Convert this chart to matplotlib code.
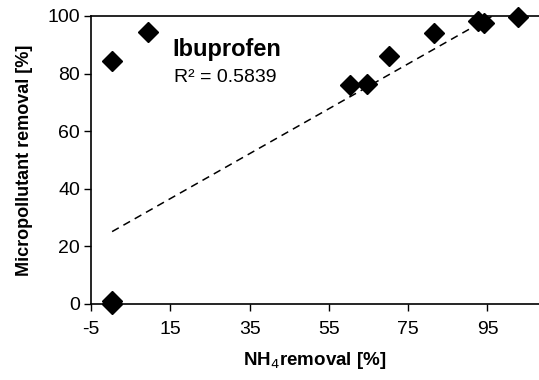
import numpy as np
from matplotlib import pyplot as plt

plt.rcParams['font.family'] = ['Liberation Sans', 'DejaVu Sans']
plt.rcParams['axes.unicode_minus'] = False

# NH4 removal vs micropollutant removal
nh4_removal = [0.3, 0.3, 0.3, 9.3, 60.2, 64.6, 70.1, 81.5, 92.5, 94.2, 102.8]
mp_removal = [84.4, 1.0, 0.0, 94.4, 76.0, 76.5, 86.1, 94.0, 98.4, 97.5, 99.8]

# linear trendline as shown in the chart
trend_slope = 0.78
trend_intercept = 24.9
r_squared = 0.5839

x_ticks = [-5, 15, 35, 55, 75, 95]
y_ticks = [0, 20, 40, 60, 80, 100]

fig = plt.figure(figsize=(5.39, 3.8), dpi=100)
ax = fig.add_axes([0.169, 0.2, 0.831, 0.758])

tx = np.array([min(nh4_removal), max(nh4_removal)])
ax.plot(tx, trend_intercept + trend_slope * tx, color='black', linestyle=(0, (5, 3.5)),
        linewidth=1.1, zorder=2)
ax.plot(nh4_removal, mp_removal, linestyle='none', marker='D', markersize=10,
        color='black', zorder=3, clip_on=False)

ax.set_xlim(-5, 108)
ax.set_ylim(0, 100)
ax.set_xticks(x_ticks)
ax.set_yticks(y_ticks)
ax.tick_params(axis='both', labelsize=14, length=5, width=1, direction='out', pad=3)
ax.tick_params(axis='x', pad=7)
ax.spines['right'].set_visible(False)
for s in ['left', 'bottom', 'top']:
    ax.spines[s].set_linewidth(1.2)

ax.set_xlabel('NH$_4$removal [%]', fontsize=13.5, fontweight='bold', labelpad=9)
ax.set_ylabel('Micropollutant removal [%]', fontsize=13, fontweight='bold', labelpad=10)

ax.text(15.5, 86, 'Ibuprofen', fontsize=17, fontweight='bold')
ax.text(15.8, 77, 'R² = %.4f' % r_squared, fontsize=14)

fig.savefig('out.png', dpi=100)
